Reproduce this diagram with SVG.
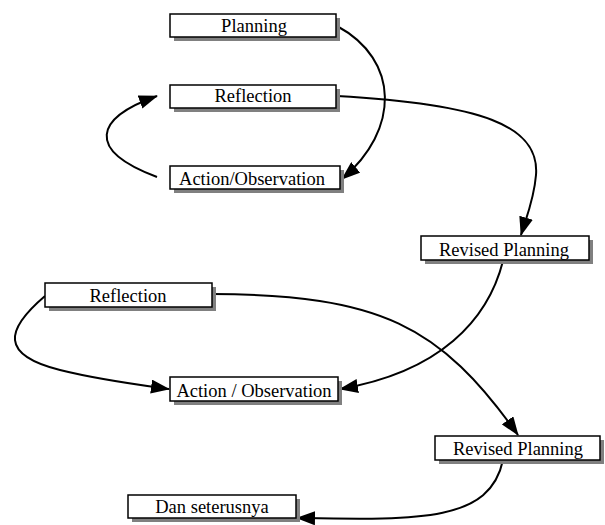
<svg xmlns="http://www.w3.org/2000/svg" width="605" height="525" viewBox="0 0 605 525">
<style>
rect.sh{fill:#808080;stroke:none}
rect.bx{fill:#ffffff;stroke:#000000;stroke-width:1.5}
text.t{font-family:'Liberation Serif','Times New Roman',serif;font-size:18.5px;fill:#000000;text-anchor:middle}
path.c{fill:none;stroke:#000000;stroke-width:2;marker-end:url(#ah)}
</style>
<defs>
<marker id="ah" viewBox="0 0 19 14" refX="18" refY="7" markerWidth="19" markerHeight="14" markerUnits="userSpaceOnUse" orient="auto">
<path d="M0,0 L19,7 L0,14 Z" fill="#000000"/>
</marker>
</defs>
<rect width="605" height="525" fill="#ffffff"/>
<g id="connectors">
<path class="c" d="M337 26 C400 60,400 130,342 179"/>
<path class="c" d="M157 177 C85 150,95 118,157 96"/>
<path class="c" d="M337 96 C480 104,540 125,536 175 C534 200,526 218,521 235"/>
<path class="c" d="M503 261 C488 320,440 372,340 389"/>
<path class="c" d="M45 296 C5 330,0 355,60 370 C100 380,140 385,169 389"/>
<path class="c" d="M212 294 C380 295,440 325,518 435"/>
<path class="c" d="M503 460 C490 522,420 520,297 518"/>
</g>
<g id="planning"><rect class="sh" x="174" y="18" width="166" height="23"/><rect class="bx" x="170" y="14" width="166" height="23"/><text class="t" x="254" y="32">Planning</text></g>
<g id="reflection1"><rect class="sh" x="174" y="89" width="166" height="23"/><rect class="bx" x="170" y="85" width="166" height="23"/><text class="t" x="253" y="102">Reflection</text></g>
<g id="action1"><rect class="sh" x="174" y="170" width="170" height="23"/><rect class="bx" x="170" y="166" width="170" height="23"/><text class="t" x="252" y="185">Action/Observation</text></g>
<g id="revised1"><rect class="sh" x="425" y="240" width="168" height="24"/><rect class="bx" x="421" y="236" width="168" height="24"/><text class="t" x="504" y="256">Revised Planning</text></g>
<g id="reflection2"><rect class="sh" x="49" y="287" width="167" height="24"/><rect class="bx" x="45" y="283" width="167" height="24"/><text class="t" x="128" y="302">Reflection</text></g>
<g id="action2"><rect class="sh" x="174" y="381" width="168" height="24"/><rect class="bx" x="170" y="377" width="168" height="24"/><text class="t" x="254" y="397">Action / Observation</text></g>
<g id="revised2"><rect class="sh" x="439" y="440" width="165" height="24"/><rect class="bx" x="435" y="436" width="165" height="24"/><text class="t" x="518" y="455">Revised Planning</text></g>
<g id="dan"><rect class="sh" x="132" y="499" width="168" height="23"/><rect class="bx" x="128" y="495" width="168" height="23"/><text class="t" x="212" y="513">Dan seterusnya</text></g>
</svg>
